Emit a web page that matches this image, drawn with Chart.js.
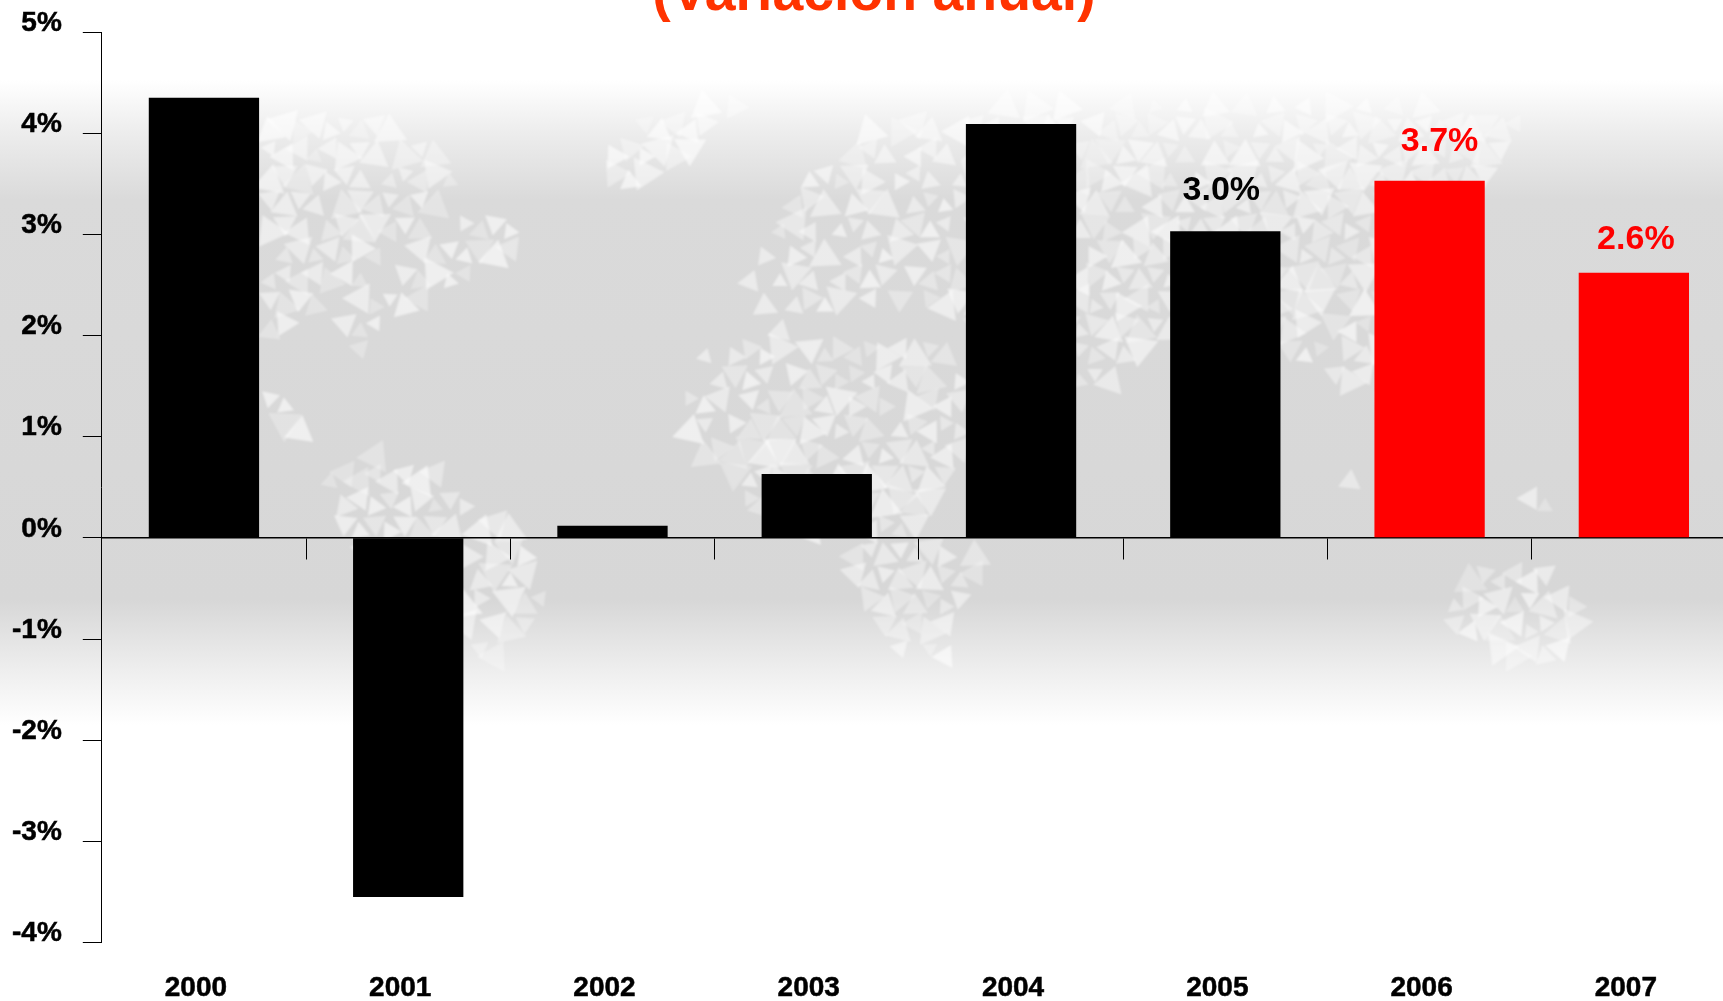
<!DOCTYPE html>
<html>
<head>
<meta charset="utf-8">
<title>Variación anual</title>
<script src="https://cdn.jsdelivr.net/npm/chart.js@4.4.1/dist/chart.umd.min.js"></script>
<style>
    html, body { margin: 0; padding: 0; background: #fff; overflow: hidden; }
    canvas { display: block; }
</style>
</head>
<body>
<canvas id="chart-growth" width="1736" height="1001"></canvas>
<script>
const years = ['2000', '2001', '2002', '2003', '2004', '2005', '2006', '2007'];
const growth = [4.35, -3.55, 0.12, 0.63, 4.09, 3.03, 3.53, 2.62];
const valueLabels = [null, null, null, null, null, '3.0%', '3.7%', '2.6%'];
const titleText = '(Variación anual)';

const barColors = ['#000', '#000', '#000', '#000', '#000', '#000', '#ff0000', '#ff0000'];
const fontFamily = '"Liberation Sans", Arial, sans-serif';

// Backdrop only: rough world outline, in pixels of the 1568 wide preview
const continents = [
    [[235, 100], [330, 105], [400, 125], [415, 180], [490, 215], [440, 245], [345, 295], [320, 335], [300, 290], [235, 315]],
    [[240, 355], [265, 360], [285, 410], [260, 395]],
    [[295, 440], [330, 410], [395, 430], [435, 460], [505, 510], [490, 570], [430, 612], [410, 560], [320, 500]],
    [[545, 150], [600, 100], [680, 90], [640, 130], [570, 180]],
    [[670, 245], [720, 175], [790, 120], [900, 95], [1100, 90], [1390, 100], [1380, 150], [1320, 190], [1340, 290], [1250, 370], [1170, 330], [1080, 290], [1000, 360], [880, 300], [840, 270], [700, 290]],
    [[615, 370], [650, 310], [720, 300], [870, 320], [880, 360], [870, 440], [830, 490], [900, 510], [860, 600], [800, 590], [770, 500], [690, 470], [630, 410]],
    [[932, 525], [948, 535], [945, 558], [930, 552]],
    [[1305, 565], [1340, 520], [1400, 510], [1450, 560], [1400, 615], [1360, 590]],
    [[1215, 420], [1235, 440], [1225, 455]],
    [[1380, 445], [1425, 462], [1430, 478], [1390, 462]],
    [[1265, 545], [1290, 550], [1288, 558]]
];

// fixed scatter for the backdrop triangles, same result on every draw
function scatter(a, b, c) {
    const v = Math.sin(a * 12.9898 + b * 78.233 + c * 37.719) * 43758.5453;
    return v - Math.floor(v);
}

function drawMesh(width, height) {
    const layer = document.createElement('canvas');
    layer.width = width;
    layer.height = height;
    const ctx = layer.getContext('2d');
    const k = 1723 / 1568;
    const outline = new Path2D();
    continents.forEach(poly => {
        poly.forEach((p, i) => {
            if (i === 0) outline.moveTo(p[0] * k, p[1] * k);
            else outline.lineTo(p[0] * k, p[1] * k);
        });
        outline.closePath();
    });

    const side = 30, rowH = 25;
    for (let r = 0; r < 30; r++) {
        for (let c = 0; c < 60; c++) {
            for (let up = 0; up < 2; up++) {
                const x = c * side + (r % 2) * side / 2 + 240;
                const y = r * rowH + 90;
                const pts = up
                    ? [[x, y + rowH], [x + side, y + rowH], [x + side / 2, y]]
                    : [[x + side / 2, y], [x + side * 1.5, y], [x + side, y + rowH]];
                const cx = (pts[0][0] + pts[1][0] + pts[2][0]) / 3;
                const cy = (pts[0][1] + pts[1][1] + pts[2][1]) / 3;
                if (!ctx.isPointInPath(outline, cx, cy)) continue;
                const s1 = scatter(r, c, up), s2 = scatter(c, r, up + 3), s3 = scatter(r + c, up, 7);
                if (s3 < 0.12) continue;
                const size = 0.5 + s1 * 0.65;
                const turn = (s2 - 0.5) * 1.1;
                const cos = Math.cos(turn), sin = Math.sin(turn);
                ctx.beginPath();
                pts.forEach((p, i) => {
                    const dx = (p[0] - cx) * size, dy = (p[1] - cy) * size;
                    const px = cx + dx * cos - dy * sin;
                    const py = cy + dx * sin + dy * cos;
                    if (i === 0) ctx.moveTo(px, py); else ctx.lineTo(px, py);
                });
                ctx.closePath();
                ctx.fillStyle = 'rgba(255,255,255,' + (0.22 + s3 * 0.38) + ')';
                ctx.fill();
            }
        }
    }
    return layer;
}

const backdrop = {
    id: 'backdrop',
    beforeDraw(chart) {
        const ctx = chart.ctx;
        const h = chart.height;
        const grad = ctx.createLinearGradient(0, 0, 0, h);
        [[0, '#fff'], [80, '#fff'], [135, '#ececec'], [200, '#dadada'], [600, '#d7d7d7'], [670, '#eeeeee'], [725, '#fff'], [h, '#fff']]
            .forEach(s => grad.addColorStop(s[0] / h, s[1]));
        ctx.save();
        ctx.fillStyle = grad;
        ctx.fillRect(0, 0, chart.width, h);
        ctx.filter = 'blur(1.1px)';
        ctx.drawImage(drawMesh(chart.width, h), 0, 0);
        ctx.restore();
    }
};

// Title cut off by the top edge, and the value labels above the last bars
const labelNudge = { 5: [-4, -41], 6: [10, -39], 7: [2, -33] };
const annotations = {
    id: 'annotations',
    afterDatasetsDraw(chart) {
        const ctx = chart.ctx;
        const bars = chart.getDatasetMeta(0).data;
        ctx.save();
        ctx.textAlign = 'center';
        ctx.textBaseline = 'middle';
        ctx.font = 'bold 34px ' + fontFamily;
        valueLabels.forEach((text, i) => {
            if (!text) return;
            ctx.fillStyle = barColors[i];
            ctx.fillText(text, bars[i].x + labelNudge[i][0], bars[i].y + labelNudge[i][1]);
        });
        ctx.textBaseline = 'alphabetic';
        ctx.font = 'bold 55.4px ' + fontFamily;
        ctx.fillStyle = '#ff3300';
        ctx.fillText(titleText, 874, 10);
        ctx.restore();
    }
};

new Chart(document.getElementById('chart-growth').getContext('2d'), {
    type: 'bar',
    data: {
        labels: years,
        datasets: [{
            data: growth,
            backgroundColor: barColors,
            categoryPercentage: 1,
            barPercentage: 0.54,
            xAxisID: 'x',
            yAxisID: 'y'
        }]
    },
    options: {
        responsive: false,
        animation: false,
        layout: { padding: { top: 32, left: 0, right: 0, bottom: 0 } },
        plugins: { legend: { display: false }, tooltip: { enabled: false } },
        scales: {
            x: {
                position: { y: 0 },
                offset: true,
                grid: { offset: true, drawOnChartArea: false, drawTicks: true, tickLength: 21, color: '#000', lineWidth: 1 },
                border: { color: '#000', width: 1.5 },
                ticks: { display: false }
            },
            xLabels: {
                type: 'category',
                axis: 'x',
                labels: years,
                position: 'bottom',
                offset: true,
                grid: { display: false },
                border: { display: false },
                ticks: {
                    color: '#000',
                    font: { family: fontFamily, size: 28, weight: 'bold' },
                    textStrokeColor: '#000',
                    textStrokeWidth: 0.5,
                    padding: 20.5,
                    labelOffset: -8,
                    autoSkip: false,
                    maxRotation: 0
                },
                afterFit(scale) { scale.height = 58.5; }
            },
            y: {
                min: -4,
                max: 5,
                grid: { drawOnChartArea: false, drawTicks: true, tickLength: 19, color: '#000', lineWidth: 1 },
                border: { color: '#000', width: 1 },
                ticks: {
                    stepSize: 1,
                    color: '#000',
                    font: { family: fontFamily, size: 28, weight: 'bold' },
                    textStrokeColor: '#000',
                    textStrokeWidth: 0.5,
                    padding: 21,
                    labelOffset: -9,
                    callback: value => value + '%'
                },
                afterFit(scale) {
                    scale.width = 101.8;
                    // label height would otherwise push the plot top down
                    scale.paddingTop = 0;
                    scale.paddingBottom = 0;
                }
            }
        }
    },
    plugins: [backdrop, annotations]
});
</script>
</body>
</html>
